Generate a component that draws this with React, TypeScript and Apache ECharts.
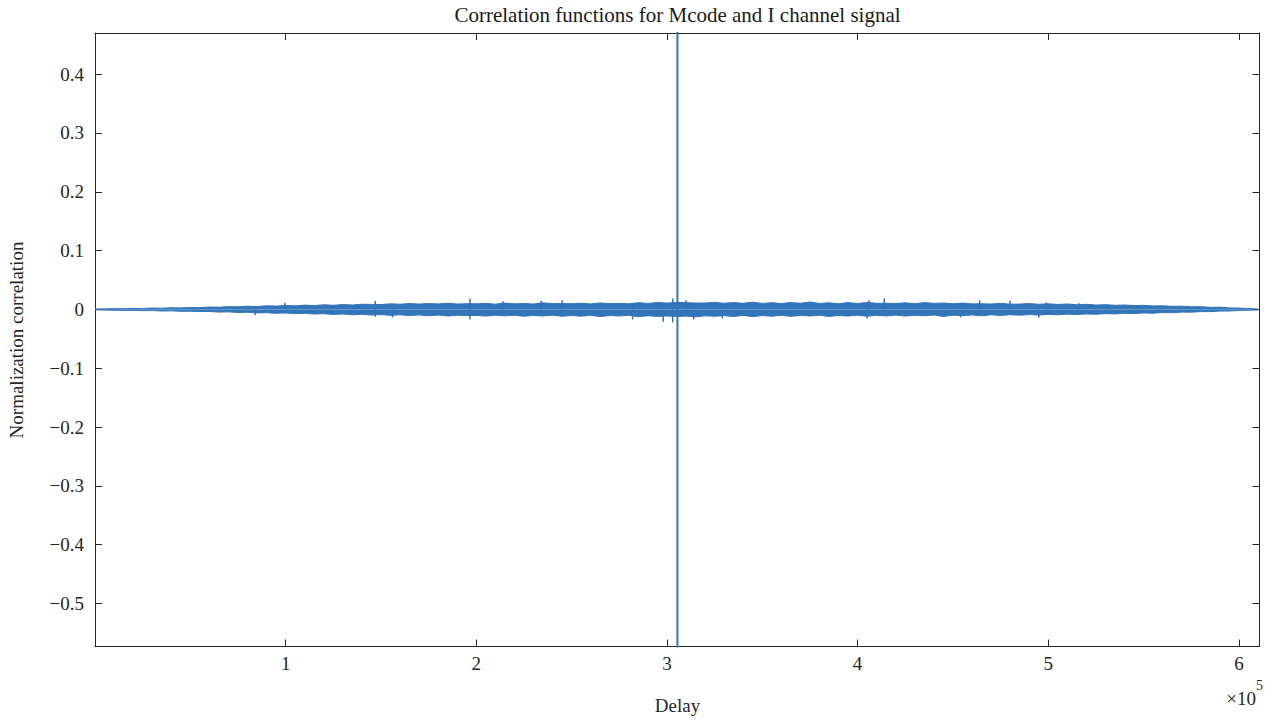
import React, { useEffect, useRef } from "react";
import * as echarts from "echarts";

// Sample positions of the noise envelope (delay, in thousands)
const delayK = [
  0, 5, 10, 15, 20, 25, 30, 35, 40, 45,
  50, 55, 60, 65, 70, 75, 80, 85, 90, 95,
  100, 105, 110, 115, 120, 125, 130, 135, 140, 145,
  150, 155, 160, 165, 170, 175, 180, 185, 190, 195,
  200, 205, 210, 215, 220, 225, 230, 235, 240, 245,
  250, 255, 260, 265, 270, 275, 280, 285, 290, 295,
  300, 305, 310, 315, 320, 325, 330, 335, 340, 345,
  350, 355, 360, 365, 370, 375, 380, 385, 390, 395,
  400, 405, 410, 415, 420, 425, 430, 435, 440, 445,
  450, 455, 460, 465, 470, 475, 480, 485, 490, 495,
  500, 505, 510, 515, 520, 525, 530, 535, 540, 545,
  550, 555, 560, 565, 570, 575, 580, 585, 590, 595,
  600, 605, 610,
];

// Upper edge of the noise band (x 1e-3)
const upperMilli = [
  0.6, 1.0, 1.4, 1.2, 1.9, 1.7, 2.4, 2.1, 2.9, 2.6,
  3.3, 3.0, 4.2, 3.8, 4.9, 4.4, 5.6, 5.0, 6.3, 5.7,
  6.8, 6.1, 7.4, 6.6, 7.9, 7.1, 8.3, 7.6, 8.8, 8.6,
  8.4, 9.6, 8.9, 10.2, 9.1, 10.0, 9.4, 10.5, 9.2, 9.8,
  9.6, 10.3, 9.0, 10.8, 9.5, 10.1, 9.3, 11.2, 9.8, 10.0,
  9.7, 10.6, 9.4, 11.0, 9.9, 10.4, 9.6, 11.5, 10.2, 12.0,
  10.8, 12.0, 11.5, 11.0, 10.9, 12.2, 10.6, 11.8, 10.4, 12.4,
  10.3, 11.6, 10.0, 11.9, 10.5, 12.6, 10.2, 11.3, 9.8, 11.7,
  10.1, 12.0, 10.4, 10.6, 10.0, 11.4, 9.7, 11.8, 10.3, 11.0,
  9.6, 10.8, 9.4, 9.8, 9.2, 10.4, 9.0, 9.1, 10.0, 8.8,
  9.6, 8.5, 9.3, 8.0, 8.7, 7.5, 8.2, 7.1, 7.6, 6.7,
  7.0, 6.0, 6.3, 5.3, 5.6, 4.5, 4.8, 3.6, 3.8, 2.6,
  2.4, 1.5, 0.8,
];

// Lower edge of the noise band (magnitude, x 1e-3)
const lowerMilli = [
  0.6, 1.1, 1.2, 1.6, 1.5, 2.0, 1.9, 2.6, 2.4, 3.1,
  2.9, 3.6, 3.4, 4.5, 4.1, 5.2, 4.8, 5.9, 5.4, 6.6,
  6.0, 7.2, 6.6, 7.8, 7.2, 8.4, 7.7, 9.0, 8.2, 9.5,
  8.7, 10.0, 9.1, 10.4, 9.3, 10.7, 9.5, 11.2, 9.8, 10.4,
  10.1, 11.3, 9.7, 10.9, 9.9, 11.6, 10.2, 11.0, 9.8, 11.5,
  10.3, 11.4, 10.0, 12.0, 10.4, 11.1, 9.9, 12.3, 10.6, 11.8,
  11.0, 12.0, 11.3, 12.5, 10.8, 11.5, 10.5, 11.9, 10.1, 12.2,
  10.4, 11.5, 10.0, 11.7, 10.2, 11.1, 9.9, 11.8, 10.3, 11.2,
  9.8, 11.6, 10.0, 11.0, 9.6, 11.3, 9.8, 10.7, 9.5, 11.9,
  9.7, 10.5, 9.3, 10.9, 9.0, 10.2, 8.9, 9.8, 8.7, 9.5,
  8.4, 9.0, 8.0, 8.6, 7.6, 8.1, 7.1, 7.6, 6.6, 7.0,
  6.0, 6.3, 5.3, 5.5, 4.5, 4.6, 3.6, 3.7, 2.7, 2.6,
  1.8, 1.4, 0.8,
];

// Isolated noise spikes
const spikeDelay = [
  99600, 84000, 147000, 147000, 156000, 196700, 196700, 214000, 234000, 245000,
  282000, 298000, 303000, 303000, 310000, 314000, 329000, 405000, 406000, 414000,
  454000, 464000, 480000, 495000, 499000, 516000,
];
const spikeValue = [
  0.011, -0.0097, 0.0146, -0.0125, -0.0136, 0.0187, -0.017, 0.014, 0.0146, 0.0158,
  -0.017, -0.021, -0.022, 0.0187, 0.0158, -0.017, -0.0153, -0.0153, 0.0158, 0.0187,
  -0.0136, 0.0158, 0.0146, -0.014, 0.012, 0.0105,
];

// Main correlation peak
const peakDelay = [305500, 305500];
const peakValue = [1.0, -1.0];

const xTickValues = [100000, 200000, 300000, 400000, 500000, 600000];
const xTickLabels = ["1", "2", "3", "4", "5", "6"];
const yTickValues = [-0.5, -0.4, -0.3, -0.2, -0.1, 0, 0.1, 0.2, 0.3, 0.4];
const yTickLabels = ["\u22120.5", "\u22120.4", "\u22120.3", "\u22120.2", "\u22120.1", "0", "0.1", "0.2", "0.3", "0.4"];

const X_MIN = 0;
const X_MAX = 610800;
const Y_MIN = -0.573;
const Y_MAX = 0.47;

const FONT = "'Liberation Serif', 'Times New Roman', serif";
const INK = "#262626";
const BLUE = "#3375b9";

function labelFor(values: number[], labels: string[], v: number): string {
  for (let i = 0; i < values.length; i++) {
    if (Math.abs(values[i] - v) < 1e-6 * Math.max(1, Math.abs(v))) return labels[i];
  }
  return "";
}

export default function App() {
  const ref = useRef<HTMLDivElement>(null);

  useEffect(() => {
    if (!ref.current) return;
    const chart = echarts.init(ref.current, undefined, { renderer: "svg" });

    const upper = delayK.map((d, i) => [d * 1000, upperMilli[i] / 1000]);
    const lower = delayK.map((d, i) => [d * 1000, -lowerMilli[i] / 1000]);
    const spikes = spikeDelay.map((d, i) => [d, spikeValue[i]]);
    const peak = peakDelay.map((d, i) => [d, peakValue[i]]);

    const axisCommonX = {
      type: "value" as const,
      min: X_MIN,
      max: X_MAX,
      splitLine: { show: false },
      axisLine: { show: true, onZero: false, lineStyle: { color: INK, width: 1 } },
    };
    const axisCommonY = {
      type: "value" as const,
      min: Y_MIN,
      max: Y_MAX,
      splitLine: { show: false },
      axisLine: { show: true, onZero: false, lineStyle: { color: INK, width: 1 } },
    };

    chart.setOption({
      animation: false,
      backgroundColor: "#ffffff",
      textStyle: { fontFamily: FONT },
      grid: { left: 95, right: 5.5, top: 33, bottom: 73.5, containLabel: false },
      xAxis: [
        {
          ...axisCommonX,
          position: "bottom",
          axisTick: {
            show: true,
            inside: true,
            length: 7,
            customValues: xTickValues,
            lineStyle: { color: INK },
          },
          axisLabel: {
            show: true,
            customValues: xTickValues,
            margin: 7,
            fontSize: 19,
            color: INK,
            fontFamily: FONT,
            formatter: (v: number) => labelFor(xTickValues, xTickLabels, v),
          },
        },
        {
          ...axisCommonX,
          position: "top",
          axisTick: {
            show: true,
            inside: true,
            length: 7,
            customValues: xTickValues,
            lineStyle: { color: INK },
          },
          axisLabel: { show: false },
        },
      ],
      yAxis: [
        {
          ...axisCommonY,
          position: "left",
          axisTick: {
            show: true,
            inside: true,
            length: 7,
            customValues: yTickValues,
            lineStyle: { color: INK },
          },
          axisLabel: {
            show: true,
            customValues: yTickValues,
            margin: 11,
            fontSize: 19,
            color: INK,
            fontFamily: FONT,
            formatter: (v: number) => labelFor(yTickValues, yTickLabels, v),
          },
        },
        {
          ...axisCommonY,
          position: "right",
          axisTick: {
            show: true,
            inside: true,
            length: 7,
            customValues: yTickValues,
            lineStyle: { color: INK },
          },
          axisLabel: { show: false },
        },
      ],
      series: [
        {
          type: "line",
          name: "upper",
          data: upper,
          symbol: "none",
          lineStyle: { color: BLUE, width: 1 },
          areaStyle: { color: BLUE, opacity: 1 },
          silent: true,
          z: 2,
        },
        {
          type: "line",
          name: "lower",
          data: lower,
          symbol: "none",
          lineStyle: { color: BLUE, width: 1 },
          areaStyle: { color: BLUE, opacity: 1 },
          silent: true,
          z: 2,
        },
        {
          type: "bar",
          name: "spikes",
          data: spikes,
          barWidth: 1.5,
          itemStyle: { color: BLUE },
          silent: true,
          z: 3,
        },
        {
          type: "line",
          name: "peak",
          data: peak,
          symbol: "none",
          lineStyle: { color: BLUE, width: 2 },
          silent: true,
          clip: true,
          z: 4,
        },
      ],
      graphic: [
        {
          type: "text",
          x: 677.5,
          y: 14.5,
          style: {
            text: "Correlation functions for Mcode and I channel signal",
            fontFamily: FONT,
            fontSize: 21,
            fill: "#1a1a1a",
            align: "center",
            verticalAlign: "middle",
          },
        },
        {
          type: "text",
          x: 677.5,
          y: 705.5,
          style: {
            text: "Delay",
            fontFamily: FONT,
            fontSize: 19,
            fill: INK,
            align: "center",
            verticalAlign: "middle",
          },
        },
        {
          type: "text",
          x: 16,
          y: 340,
          rotation: Math.PI / 2,
          style: {
            text: "Normalization correlation",
            fontFamily: FONT,
            fontSize: 19,
            fill: INK,
            align: "center",
            verticalAlign: "middle",
          },
        },
        {
          type: "text",
          x: 1256,
          y: 698.5,
          style: {
            text: "\u00d710",
            fontFamily: FONT,
            fontSize: 19,
            fill: INK,
            align: "right",
            verticalAlign: "middle",
          },
        },
        {
          type: "text",
          x: 1256,
          y: 685,
          style: {
            text: "5",
            fontFamily: FONT,
            fontSize: 14,
            fill: INK,
            align: "left",
            verticalAlign: "middle",
          },
        },
      ],
    });

    return () => {
      chart.dispose();
    };
  }, []);

  return (
    <div
      ref={ref}
      style={{ position: "absolute", left: 0, top: 0, width: 1265, height: 720 }}
    />
  );
}
